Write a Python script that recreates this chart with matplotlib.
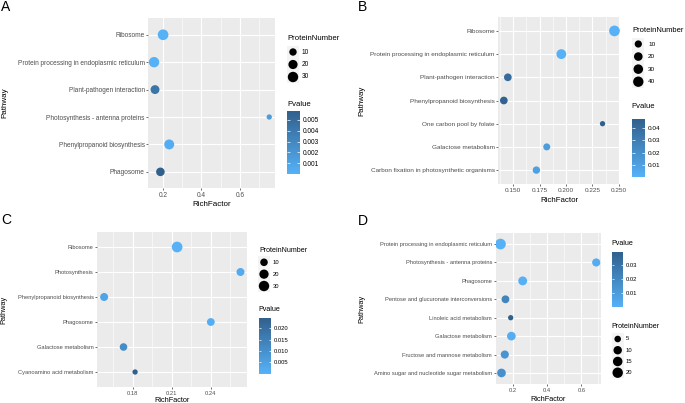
import numpy as np
import matplotlib.pyplot as plt
from matplotlib.colors import LinearSegmentedColormap, Normalize
from matplotlib.cm import ScalarMappable

plt.rcParams["font.family"] = ["Liberation Sans", "DejaVu Sans"]

W, H = 685, 403

# ---- panel A ----
a_pathway = ["Ribosome", "Protein processing in endoplasmic reticulum",
             "Plant-pathogen interaction", "Photosynthesis - antenna proteins",
             "Phenylpropanoid biosynthesis", "Phagosome"]
a_rich = [0.200, 0.153, 0.158, 0.753, 0.232, 0.186]
a_count = [33, 30, 18, 6, 26, 16]
a_pval = [0.00005, 0.00002, 0.0043, 0.0015, 0.0003, 0.0058]
a_xticks = [0.2, 0.4, 0.6]
a_xlabels = ["0.2", "0.4", "0.6"]
a_size_breaks = [10, 20, 30]
a_p_ticks = [0.001, 0.002, 0.003, 0.004, 0.005]
a_p_labels = ["0.001", "0.002", "0.003", "0.004", "0.005"]

# ---- panel B ----
b_pathway = ["Ribosome", "Protein processing in endoplasmic reticulum",
             "Plant-pathogen interaction", "Phenylpropanoid biosynthesis",
             "One carbon pool by folate", "Galactose metabolism",
             "Carbon fixation in photosynthetic organisms"]
b_rich = [0.2459, 0.1956, 0.1450, 0.1412, 0.2346, 0.1818, 0.1720]
b_count = [45, 33, 13, 13, 5, 9, 11]
b_pval = [0.0001, 0.0003, 0.040, 0.046, 0.0477, 0.012, 0.010]
b_xticks = [0.150, 0.175, 0.200, 0.225, 0.250]
b_xlabels = ["0.150", "0.175", "0.200", "0.225", "0.250"]
b_size_breaks = [10, 20, 30, 40]
b_p_ticks = [0.01, 0.02, 0.03, 0.04]
b_p_labels = ["0.01", "0.02", "0.03", "0.04"]

# ---- panel C ----
c_pathway = ["Ribosome", "Photosynthesis", "Phenylpropanoid biosynthesis",
             "Phagosome", "Galactose metabolism", "Cyanoamino acid metabolism"]
c_rich = [0.2141, 0.2628, 0.1580, 0.2400, 0.1729, 0.1818]
c_count = [33, 12, 12, 11, 10, 5]
c_pval = [0.00001, 0.002, 0.004, 0.001, 0.011, 0.0246]
c_xticks = [0.18, 0.21, 0.24]
c_xlabels = ["0.18", "0.21", "0.24"]
c_size_breaks = [10, 20, 30]
c_p_ticks = [0.005, 0.010, 0.015, 0.020]
c_p_labels = ["0.005", "0.010", "0.015", "0.020"]

# ---- panel D ----
d_pathway = ["Protein processing in endoplasmic reticulum",
             "Photosynthesis - antenna proteins", "Phagosome",
             "Pentose and glucuronate interconversions", "Linoleic acid metabolism",
             "Galactose metabolism", "Fructose and mannose metabolism",
             "Amino sugar and nucleotide sugar metabolism"]
d_rich = [0.1285, 0.687, 0.258, 0.1575, 0.188, 0.192, 0.1536, 0.1343]
d_count = [22, 9, 12, 8, 4, 11, 9, 11]
d_pval = [0.00001, 0.002, 0.0005, 0.021, 0.039, 0.002, 0.014, 0.016]
d_xticks = [0.2, 0.4, 0.6]
d_xlabels = ["0.2", "0.4", "0.6"]
d_size_breaks = [5, 10, 15, 20]
d_p_ticks = [0.01, 0.02, 0.03]
d_p_labels = ["0.01", "0.02", "0.03"]

cmap = LinearSegmentedColormap.from_list("pv", ["#56B1F7", "#31608C"])


def px_box(l, t, r, b):
    return [l / W, 1 - b / H, (r - l) / W, (b - t) / H]


def dot_pt(v, lo, hi):
    # diameter in points, area-like scaling like ggplot's scale_size
    v = np.asarray(v, float)
    frac = np.clip((v - lo) / (hi - lo), 0, 1)
    return (5.3 + 5.4 * np.sqrt(frac)) * 72 / 100


def panel(fig, pathway, rich, count, pval, xticks, xlabels, size_breaks,
          p_ticks, p_labels, lay):
    fs, fs_t, fs_l = lay["fs"], lay["fs_title"], lay["fs_leg"]
    ax = fig.add_axes(px_box(*lay["ax"]))
    n = len(pathway)
    ypos = np.arange(n)[::-1]
    lo, hi = min(count), max(count)
    norm = Normalize(min(pval), max(pval))
    ax.scatter(rich, ypos, s=dot_pt(count, lo, hi) ** 2, c=pval, cmap=cmap,
               norm=norm, linewidths=0, zorder=3)
    span = max(rich) - min(rich)
    x0, x1 = min(rich) - 0.05 * span, max(rich) + 0.05 * span
    ax.set_xlim(x0, x1)
    ax.set_ylim(-0.6, n - 0.4)
    ax.set_yticks(ypos)
    ax.set_yticklabels(pathway)
    ax.set_xticks(xticks)
    ax.set_xticklabels(xlabels)
    step = xticks[1] - xticks[0]
    minor = np.arange(xticks[0] - step / 2, x1, step)
    ax.set_xticks(minor[(minor > x0) & (minor < x1)], minor=True)
    ax.set_facecolor("#EBEBEB")
    ax.set_axisbelow(True)
    ax.grid(which="major", color="white", linewidth=0.8)
    ax.grid(which="minor", axis="x", color="white", linewidth=0.4)
    for s in ax.spines.values():
        s.set_visible(False)
    ax.tick_params(which="major", length=1.6, width=0.5, color="#333333",
                   labelsize=fs, labelcolor="#4D4D4D", pad=1)
    ax.tick_params(which="minor", length=0)

    fig.text(lay["letter"][0] / W, 1 - lay["letter"][1] / H, lay["name"],
             fontsize=10, ha="left", va="center")
    fig.text(lay["ylab"][0] / W, 1 - lay["ylab"][1] / H, "Pathway",
             fontsize=fs_t, rotation=90, ha="center", va="center")
    fig.text(lay["xlab"][0] / W, 1 - lay["xlab"][1] / H, "RichFactor",
             fontsize=fs_t, ha="center", va="center")

    # size legend
    tx, ty = lay["size_title"]
    fig.text(tx / W, 1 - ty / H, "ProteinNumber", fontsize=fs_t - 0.2,
             ha="left", va="center")
    dx, r0, r1, lx = lay["size_rows"]
    k = len(size_breaks)
    gap = (r1 - r0) / (k - 1)
    lax = fig.add_axes(px_box(dx - 6, r0 - gap / 2, dx + 6, r1 + gap / 2))
    lax.set_xlim(0, 1)
    lax.set_ylim(k - 0.5, -0.5)
    lax.set_facecolor("#F4F4F4")
    for s in lax.spines.values():
        s.set_visible(False)
    lax.set_xticks([])
    lax.set_yticks([])
    rows = np.arange(k)
    lax.scatter([0.5] * k, rows, s=dot_pt(size_breaks, lo, hi) ** 2,
                color="black", linewidths=0)
    for r, b in zip(rows, size_breaks):
        lax.text((lx - dx + 6) / 12, r, str(b), fontsize=fs_l,
                 ha="left", va="center", clip_on=False)

    # colour bar
    tx, ty = lay["p_title"]
    fig.text(tx / W, 1 - ty / H, "Pvalue", fontsize=fs_t - 0.2,
             ha="left", va="center")
    cax = fig.add_axes(px_box(*lay["bar"]))
    cb = fig.colorbar(ScalarMappable(norm=norm, cmap=cmap), cax=cax)
    cb.outline.set_visible(False)
    cb.set_ticks(p_ticks)
    cb.set_ticklabels(p_labels)
    bw = (lay["bar"][2] - lay["bar"][0]) * 0.72
    cax.tick_params(direction="in", length=bw * 0.2, width=0.5, color="white",
                    left=True, right=True, labelleft=False, labelright=True,
                    labelsize=fs_l, pad=2)


layout_a = dict(name="A", ax=(148.3, 18.3, 275, 188.3), letter=(1, 7),
                ylab=(5, 103), xlab=(211.7, 204),
                size_title=(287, 38), size_rows=(293, 52, 77, 302),
                p_title=(287, 104), bar=(286.7, 111, 300, 174),
                fs=4.7, fs_title=5.8, fs_leg=4.7)
layout_b = dict(name="B", ax=(498.3, 17, 620, 184), letter=(358, 7),
                ylab=(362, 100.5), xlab=(559, 201),
                size_title=(632.3, 30.3), size_rows=(638.3, 44, 81.7, 648),
                p_title=(631.5, 107), bar=(631.5, 119, 644.5, 176.7),
                fs=4.6, fs_title=5.7, fs_leg=4.6)
layout_c = dict(name="C", ax=(97.3, 232, 247.3, 387), letter=(1, 220),
                ylab=(4, 309.5), xlab=(172.3, 400.5),
                size_title=(259.3, 250.7), size_rows=(264, 262.3, 286, 272.5),
                p_title=(258.7, 309.7), bar=(258.7, 318, 270.7, 373.7),
                fs=4.15, fs_title=5.3, fs_leg=4.2)
layout_d = dict(name="D", ax=(495.7, 233, 601, 384), letter=(358, 221),
                ylab=(362, 308.5), xlab=(548.3, 399.5),
                size_title=(611.7, 326), size_rows=(617.7, 339, 372.7, 626),
                p_title=(611.7, 243.7), bar=(611.7, 251.7, 623.3, 307.3),
                fs=4.15, fs_title=5.3, fs_leg=4.2)

fig = plt.figure(figsize=(W / 100, H / 100), dpi=100)

panel(fig, a_pathway, a_rich, a_count, a_pval, a_xticks, a_xlabels,
      a_size_breaks, a_p_ticks, a_p_labels, layout_a)
panel(fig, b_pathway, b_rich, b_count, b_pval, b_xticks, b_xlabels,
      b_size_breaks, b_p_ticks, b_p_labels, layout_b)
panel(fig, c_pathway, c_rich, c_count, c_pval, c_xticks, c_xlabels,
      c_size_breaks, c_p_ticks, c_p_labels, layout_c)
panel(fig, d_pathway, d_rich, d_count, d_pval, d_xticks, d_xlabels,
      d_size_breaks, d_p_ticks, d_p_labels, layout_d)

fig.savefig("out.png", dpi=100)
